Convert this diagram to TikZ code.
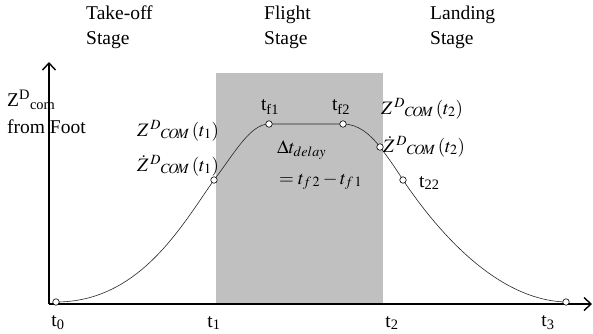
\documentclass[tikz,border=0pt]{standalone}
\usepackage{mathptmx}
\usepackage{fontspec}
\setmainfont{Liberation Serif}
\usetikzlibrary{arrows.meta}
\definecolor{flightgray}{RGB}{192,192,192}

\begin{document}
\begin{tikzpicture}[x=1pt, y=-1pt, >={Straight Barb[length=7pt, width=13pt]},
  font=\fontsize{19.5}{25}\selectfont,
  axis/.style={line width=1.4pt, ->},
  stagelabel/.style={anchor=north west, align=left, inner sep=0pt},
  ptmark/.style={circle, draw, fill=white, inner sep=0pt, minimum size=6.5pt, line width=0.6pt},
  mathlabel/.style={font=\fontsize{19}{22}\selectfont, inner sep=0pt, anchor=base west}]
  \useasboundingbox (0,0) rectangle (593,333);

  % flight stage
  \fill[flightgray] (216,73) rectangle (383,304);

  % axes
  \coordinate (o) at (49,304);
  \coordinate (ytop) at (49,62);
  \coordinate (xend) at (592,304);
  \draw[axis] (o) -- (ytop);
  \draw[axis] (o) -- (xend);

  % stage titles
  \node[stagelabel] (takeoff) at (86,6) {Take-off\\Stage};
  \node[stagelabel] (flight) at (264,6) {Flight\\Stage};
  \node[stagelabel] (landing) at (430,6) {Landing\\Stage};

  % vertical axis label
  \node[anchor=west, inner sep=0pt] (zlab) at (7,100) {Z\textsuperscript{D}\textsubscript{com}};
  \node[anchor=west, inner sep=0pt] (footlab) at (7,127) {from Foot};

  % curve points
  \coordinate (p0) at (56,302);
  \coordinate (p1) at (214,180);
  \coordinate (pf1) at (269,124);
  \coordinate (pf2) at (343,124);
  \coordinate (p2) at (380,147);
  \coordinate (p22) at (403,180);
  \coordinate (p3) at (566,302);

  \draw[line width=0.6pt, black!85] (p0) .. controls (140,302) and (182,225) .. (p1)
    .. controls (234,154) and (250,124) .. (pf1) -- (pf2)
    .. controls (358,124) and (370,134) .. (p2)
    .. controls (390,160) and (396,169) .. (p22)
    .. controls (428,217) and (490,300) .. (p3);

  \foreach \p in {p0, p1, pf1, pf2, p2, p22, p3}
    \node[ptmark] (m\p) at (\p) {};

  % time labels
  \node (t0) at (58,323) {t\textsubscript{0}};
  \node (t1) at (214,323) {t\textsubscript{1}};
  \node (t2) at (392,323) {t\textsubscript{2}};
  \node (t3) at (548,323) {t\textsubscript{3}};
  \node (tf1) at (270,107) {t\textsubscript{f1}};
  \node (tf2) at (341,107) {t\textsubscript{f2}};
  \node[anchor=west, inner sep=0pt] (t22) at (419,183) {t\textsubscript{22}};

  % state labels
  \node[mathlabel] (z1) at (137,136) {$Z^{\,D}{}_{C\!O\!M}\,(t_1)$};
  \node[mathlabel] (zd1) at (137,171) {$\dot{Z}^{\,D}{}_{C\!O\!M}\,(t_1)$};
  \node[mathlabel] (z2) at (381,114) {$Z^{\,D}{}_{C\!O\!M}\,(t_2)$};
  \node[mathlabel] (zd2) at (383,152) {$\dot{Z}^{\,D}{}_{C\!O\!M}\,(t_2)$};
  \node[mathlabel] (delay) at (277,153) {$\Delta t_{delay}$};
  \node[mathlabel] (delayeq) at (279,184) {$=t_{f\,2}-t_{f\,1}$};
\end{tikzpicture}
\end{document}
